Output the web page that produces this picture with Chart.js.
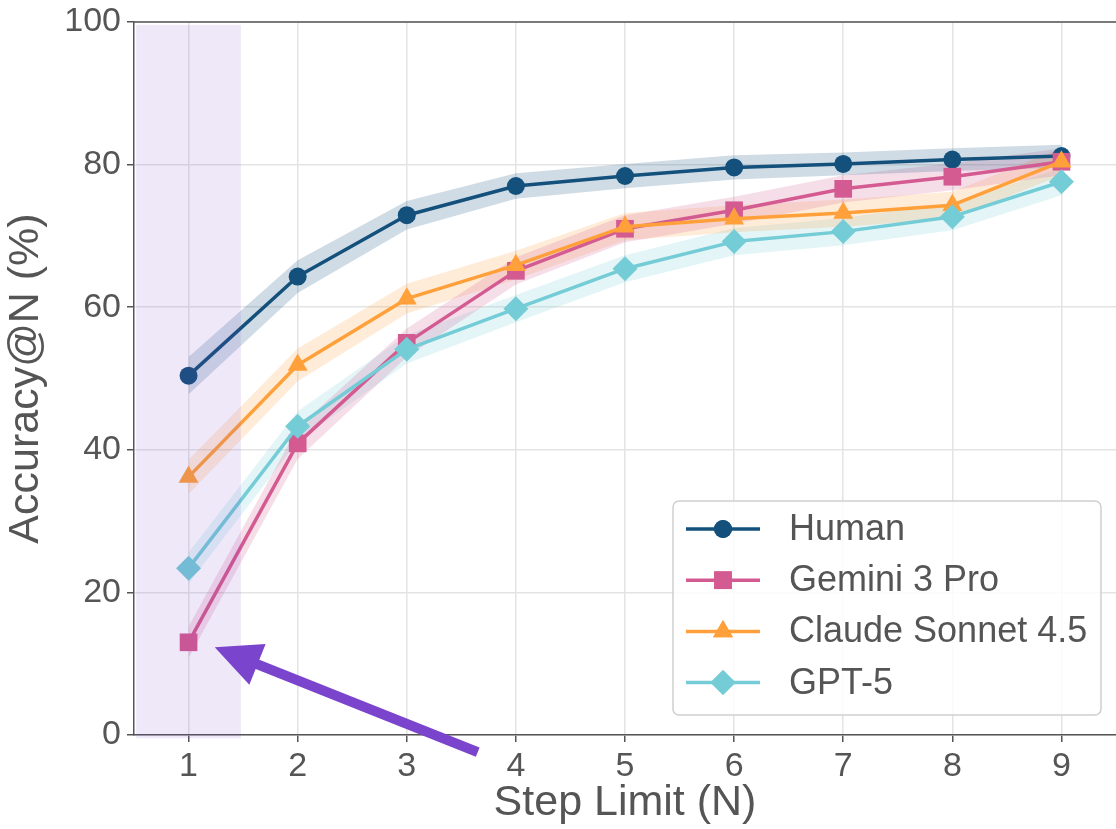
<!DOCTYPE html>
<html>
<head>
<meta charset="utf-8">
<script src="https://cdn.jsdelivr.net/npm/chart.js@4.4.1/dist/chart.umd.min.js"></script>
<style>
html,body{margin:0;padding:0;background:#fff;}
#wrap{width:1116px;height:829px;position:relative;}
</style>
</head>
<body>
<div id="wrap"><canvas id="c" width="1116" height="829"></canvas></div>
<script>
const steps = [1,2,3,4,5,6,7,8,9];
const seriesNames = ['Human','Gemini 3 Pro','Claude Sonnet 4.5','GPT-5'];
const human  = [50.4, 64.3, 72.9, 77.0, 78.4, 79.6, 80.1, 80.7, 81.2];
const gemini = [13.0, 40.9, 55.0, 65.1, 71.0, 73.6, 76.6, 78.3, 80.4];
const claude = [36.2, 51.9, 61.2, 65.9, 71.3, 72.4, 73.2, 74.3, 80.4];
const gpt5   = [23.4, 43.3, 54.1, 59.8, 65.4, 69.2, 70.6, 72.7, 77.6];
// half-widths of the shaded uncertainty bands
const humanErr  = [2.6, 2.3, 2.0, 1.8, 1.7, 1.7, 1.6, 1.6, 1.6];
const geminiErr = [2.2, 2.2, 2.0, 1.9, 1.9, 1.9, 1.9, 1.9, 1.9];
const claudeErr = [2.4, 2.3, 2.1, 2.0, 1.9, 1.9, 1.9, 1.9, 1.9];
const gpt5Err   = [2.2, 2.1, 2.0, 1.9, 1.9, 1.9, 1.9, 1.9, 1.9];
const yTicks = [0,20,40,60,80,100];
const highlightSpan = [0.52, 1.48];        // x-range of shaded region
const arrowFrom = [3.65, -2.4];            // arrow tail (data coords)
const arrowTo   = [1.24, 12.3];            // arrow tip (data coords)

const colors = ['#13507b','#d45b91','#ffa03a','#74ccd6'];
const bandAlpha = [0.2,0.2,0.2,0.2];
const styles = ['circle','rect','triangle','rectRot'];
const radii = [9, 12.5, 11.5, 12.5];
const values = [human, gemini, claude, gpt5];
const errs = [humanErr, geminiErr, claudeErr, gpt5Err];

function rgba(hex,a){const n=parseInt(hex.slice(1),16);return `rgba(${n>>16},${(n>>8)&255},${n&255},${a})`;}

const datasets = [];
values.forEach((v,i)=>{
  datasets.push({
    label: seriesNames[i] + ' lo', isBand:true,
    data: steps.map((x,k)=>({x, y: v[k]-errs[i][k]})),
    borderWidth:0, pointRadius:0, fill:false, order: 20+i, tension:0
  });
  datasets.push({
    label: seriesNames[i] + ' hi', isBand:true,
    data: steps.map((x,k)=>({x, y: v[k]+errs[i][k]})),
    borderWidth:0, pointRadius:0, fill:'-1', backgroundColor: rgba(colors[i], bandAlpha[i]), order: 20+i, tension:0
  });
});
values.forEach((v,i)=>{
  datasets.push({
    label: seriesNames[i], isBand:false,
    data: steps.map((x,k)=>({x, y: v[k]})),
    borderColor: colors[i], backgroundColor: colors[i],
    borderWidth: 3.5, pointStyle: styles[i], pointRadius: radii[i],
    pointBorderWidth: 0, pointHoverRadius: radii[i],
    fill:false, order: 4-i, tension:0
  });
});

const FONT = '"Liberation Sans", Arial, Helvetica, sans-serif';
const TXT = '#555555';

const decor = {
  id:'decor',
  afterDatasetsDraw(chart){
    const {ctx, chartArea:a, scales:{x,y}} = chart;
    ctx.save();
    const x0 = x.getPixelForValue(highlightSpan[0]), x1 = x.getPixelForValue(highlightSpan[1]);
    const y0 = y.getPixelForValue(99.6), y1 = y.getPixelForValue(-0.45);
    ctx.fillStyle = 'rgba(123,68,204,0.12)';
    ctx.fillRect(x0, y0, x1-x0, y1-y0);
    ctx.strokeStyle = '#555';
    ctx.lineWidth = 1.5;
    ctx.beginPath(); ctx.moveTo(a.left, a.top); ctx.lineTo(a.right, a.top); ctx.stroke();
    const tx = x.getPixelForValue(arrowFrom[0]), ty = y.getPixelForValue(arrowFrom[1]);
    const hx = x.getPixelForValue(arrowTo[0]), hy = y.getPixelForValue(arrowTo[1]);
    const ang = Math.atan2(hy-ty, hx-tx);
    const headLen = 46, headHalf = 22;
    const bx = hx - headLen*Math.cos(ang), by = hy - headLen*Math.sin(ang);
    ctx.strokeStyle = '#7b44cc'; ctx.fillStyle = '#7b44cc';
    ctx.lineWidth = 10; ctx.lineCap = 'butt';
    ctx.beginPath(); ctx.moveTo(tx,ty); ctx.lineTo(bx+6*Math.cos(ang), by+6*Math.sin(ang)); ctx.stroke();
    ctx.beginPath();
    ctx.moveTo(hx,hy);
    ctx.lineTo(bx + headHalf*Math.sin(ang), by - headHalf*Math.cos(ang));
    ctx.lineTo(bx - headHalf*Math.sin(ang), by + headHalf*Math.cos(ang));
    ctx.closePath(); ctx.fill();
    ctx.restore();
  },
  afterDraw(chart){
    const {ctx} = chart;
    ctx.save();
    const bxL = 673, bxT = 501, bw = 428, bh = 214, r = 6;
    ctx.fillStyle = 'rgba(255,255,255,0.85)';
    ctx.strokeStyle = '#cfcfcf'; ctx.lineWidth = 1.5;
    ctx.beginPath();
    ctx.moveTo(bxL+r,bxT); ctx.lineTo(bxL+bw-r,bxT); ctx.arcTo(bxL+bw,bxT,bxL+bw,bxT+r,r);
    ctx.lineTo(bxL+bw,bxT+bh-r); ctx.arcTo(bxL+bw,bxT+bh,bxL+bw-r,bxT+bh,r);
    ctx.lineTo(bxL+r,bxT+bh); ctx.arcTo(bxL,bxT+bh,bxL,bxT+bh-r,r);
    ctx.lineTo(bxL,bxT+r); ctx.arcTo(bxL,bxT,bxL+r,bxT,r);
    ctx.closePath(); ctx.fill(); ctx.stroke();
    const lines = chart.data.datasets.filter(d=>!d.isBand);
    lines.forEach((d,i)=>{
      const cy = bxT + 28 + i*51.2;
      const lx0 = bxL + 13, lx1 = bxL + 87, mx = (lx0+lx1)/2;
      ctx.strokeStyle = d.borderColor; ctx.lineWidth = 3.5;
      ctx.beginPath(); ctx.moveTo(lx0,cy); ctx.lineTo(lx1,cy); ctx.stroke();
      ctx.fillStyle = d.backgroundColor;
      Chart.helpers.drawPoint(ctx, {pointStyle:d.pointStyle, radius:d.pointRadius, borderWidth:0}, mx, cy);
      ctx.fill();
      ctx.fillStyle = TXT; ctx.font = '36px ' + FONT;
      ctx.textBaseline = 'middle'; ctx.textAlign = 'left';
      ctx.fillText(d.label, bxL + 116, cy + 1);
    });
    ctx.restore();
  }
};

new Chart(document.getElementById('c'), {
  type:'line',
  data:{datasets},
  options:{
    responsive:false, animation:false, devicePixelRatio:1,
    layout:{autoPadding:false, padding:{top:22, right:0, left:0, bottom:0}},
    plugins:{legend:{display:false}, tooltip:{enabled:false}},
    elements:{line:{borderJoinStyle:'round'}},
    scales:{
      x:{
        type:'linear', min:0.5, max:9.5,
        afterBuildTicks(s){ s.ticks = steps.map(v=>({value:v})); },
        afterFit(s){ s.height = 94; s.paddingLeft = 0; s.paddingRight = 0; },
        grid:{color:'#e4e4e4', lineWidth:1.5, tickColor:'#555', tickLength:7, tickWidth:1.5, drawOnChartArea:true},
        border:{display:true, color:'#555', width:1.5},
        ticks:{color:TXT, font:{family:FONT, size:34}, padding:4},
        title:{display:true, text:'Step Limit (N)', color:TXT, font:{family:FONT, size:43}, padding:{top:0,bottom:0}}
      },
      y:{
        type:'linear', min:0, max:100,
        afterBuildTicks(s){ s.ticks = yTicks.map(v=>({value:v})); },
        afterFit(s){ s.width = 134; s.paddingTop = 0; s.paddingBottom = 0; },
        grid:{color:'#e4e4e4', lineWidth:1.5, tickColor:'#555', tickLength:7, tickWidth:1.5},
        border:{display:true, color:'#555', width:1.5},
        ticks:{color:TXT, font:{family:FONT, size:34}, padding:6},
        title:{display:true, text:'Accuracy@N (%)', color:TXT, font:{family:FONT, size:43}, padding:{top:0,bottom:0}}
      }
    }
  },
  plugins:[decor]
});
</script>
</body>
</html>
